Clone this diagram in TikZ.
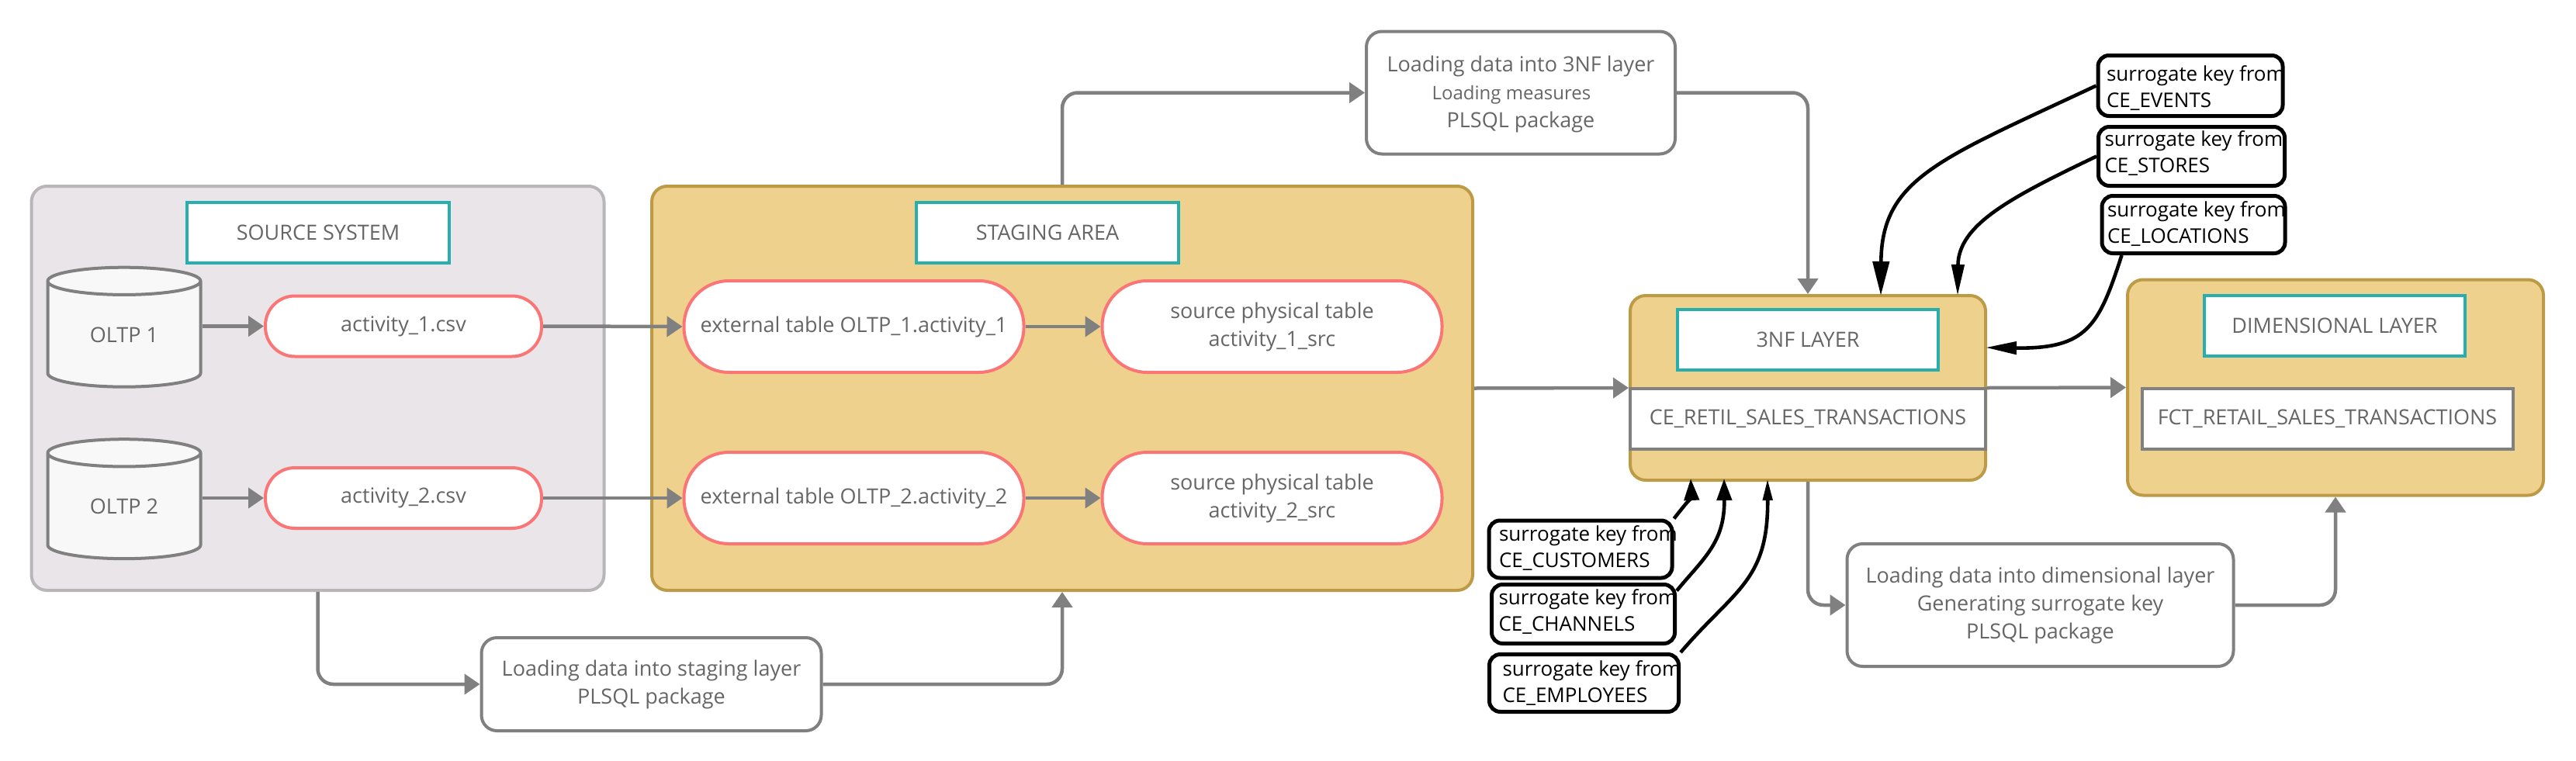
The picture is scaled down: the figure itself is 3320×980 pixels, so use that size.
\documentclass[tikz,border=0pt]{standalone}
\usepackage{fontspec}
\setmainfont{Open Sans}
\usetikzlibrary{arrows.meta,shapes.geometric}
\definecolor{cgray}{HTML}{808080}
\definecolor{ctext}{HTML}{666666}
\definecolor{csrcfill}{HTML}{E9E5E9}
\definecolor{csrcline}{HTML}{B8B6B8}
\definecolor{cgold}{HTML}{EFD18E}
\definecolor{cgoldline}{HTML}{BD9A45}
\definecolor{cteal}{HTML}{26AFAE}
\definecolor{cpink}{HTML}{FA7676}
\definecolor{ccyl}{HTML}{F8F8F8}
\newcommand\keytext[4]{\makebox[#1][l]{\hspace*{#2}\smash{\raisebox{#3}{\parbox[c]{130pt}{\baselineskip=17pt surrogate key from\\#4}}}}}
\tikzset{
  base/.style={inner sep=0pt,font=\fontsize{13.5}{18}\selectfont,text=ctext,align=center},
  srcbox/.style={base,draw=csrcline,fill=csrcfill,line width=2pt,rounded corners=10pt},
  goldbox/.style={base,draw=cgoldline,fill=cgold,line width=2pt,rounded corners=10pt},
  titlebox/.style={base,draw=cteal,fill=white,line width=2pt},
  pill/.style={base,draw=cpink,fill=white,line width=2pt},
  procbox/.style={base,draw=cgray,fill=white,line width=2pt,rounded corners=10pt},
  innerbox/.style={base,draw=cgray,fill=white,line width=2pt},
  dbcyl/.style={base,draw=cgray,line width=2pt,shape=cylinder,shape border rotate=90,aspect=0.4,
     cylinder uses custom fill,cylinder body fill=ccyl,cylinder end fill=ccyl,
     minimum width=98.5pt,minimum height=77pt},
  keybox/.style={base,font=\fontsize{13}{17}\selectfont,text=black,draw=black,fill=white,line width=2.5pt,rounded corners=7pt,align=left},
  link/.style={draw=cgray,line width=2.25pt,rounded corners=10pt,-{Triangle[length=10pt,width=13pt]}},
  blk/.style={draw=black,line width=2.3pt}
}
\begin{document}
\begin{tikzpicture}[x=0.5pt,y=-0.5pt]
\useasboundingbox (0,0) rectangle (3320,980);
% containers
\node[srcbox,minimum width=369pt,minimum height=260.5pt] (source) at (409.5,500.5) {};
\node[goldbox,minimum width=529pt,minimum height=260.5pt] (stage) at (1369,500.5) {};
\node[goldbox,minimum width=229pt,minimum height=119pt] (three) at (2330,500) {};
\node[goldbox,minimum width=268pt,minimum height=139pt] (dim) at (3010,499.5) {};
% titles
\node[titlebox,minimum width=169pt,minimum height=39pt] (srctitle) at (410,300) {SOURCE SYSTEM};
\node[titlebox,minimum width=169pt,minimum height=39pt] (stagetitle) at (1350,300) {STAGING AREA};
\node[titlebox,minimum width=168pt,minimum height=39pt] (threetitle) at (2330,438) {3NF LAYER};
\node[titlebox,minimum width=168pt,minimum height=39pt] (dimtitle) at (3009,420) {DIMENSIONAL LAYER};
% inner tables
\node[innerbox,minimum width=229pt,minimum height=39pt] (threeinner) at (2330,540) {CE\_RETIL\_SALES\_TRANSACTIONS};
\node[innerbox,minimum width=239pt,minimum height=39pt] (diminner) at (2999.5,540) {FCT\_RETAIL\_SALES\_TRANSACTIONS};
% databases
\node[dbcyl] (db1) at (160,431.5) {OLTP 1};
\node[dbcyl] (db2) at (160,653) {OLTP 2};
% pills
\node[pill,rounded corners=19pt,minimum width=178pt,minimum height=39pt] (csv1) at (520,420.5) {activity\_1.csv};
\node[pill,rounded corners=19pt,minimum width=178pt,minimum height=39pt] (csv2) at (520,642) {activity\_2.csv};
\node[pill,rounded corners=29pt,minimum width=219pt,minimum height=59pt] (ext1) at (1100.5,421) {external table OLTP\_1.activity\_1};
\node[pill,rounded corners=29pt,minimum width=219pt,minimum height=59pt] (ext2) at (1100.5,642) {external table OLTP\_2.activity\_2};
\node[pill,rounded corners=29pt,minimum width=219pt,minimum height=59pt] (phys1) at (1639.5,421) {source physical table\\activity\_1\_src};
\node[pill,rounded corners=29pt,minimum width=219pt,minimum height=59pt] (phys2) at (1639.5,642) {source physical table\\activity\_2\_src};
% process boxes
\node[procbox,minimum width=219pt,minimum height=60pt] (load1) at (839.5,882) {Loading data into staging layer\\PLSQL package};
\node[procbox,minimum width=199pt,minimum height=79pt] (load3) at (1960,119.5) {\smash{\raisebox{-4.5pt}{\parbox{190pt}{\centering\baselineskip=18pt Loading data into 3NF layer\\{\fontsize{12}{18}\selectfont\hspace*{-12pt}Loading measures}\\PLSQL package}}}};
\node[procbox,minimum width=249pt,minimum height=79pt] (loaddim) at (2629.5,780) {Loading data into dimensional layer\\Generating surrogate key\\PLSQL package};
% key boxes
\node[keybox,minimum width=119pt,minimum height=39pt] (ev) at (2823,110.5) {\keytext{119pt}{5.5pt}{-4.5pt}{CE\_EVENTS}};
\node[keybox,minimum width=120pt,minimum height=38pt] (st) at (2824.5,201.5) {\keytext{120pt}{4pt}{-1pt}{CE\_STORES}};
\node[keybox,minimum width=118pt,minimum height=37pt] (loc) at (2827,289.5) {\keytext{118pt}{3.5pt}{-2.5pt}{CE\_LOCATIONS}};
\node[keybox,minimum width=118pt,minimum height=37pt] (cust) at (2037,708) {\keytext{118pt}{6.5pt}{-2.5pt}{CE\_CUSTOMERS}};
\node[keybox,minimum width=118pt,minimum height=38pt] (chan) at (2040.5,791.5) {\keytext{118pt}{4.5pt}{-1.5pt}{CE\_CHANNELS}};
\node[keybox,minimum width=122pt,minimum height=37pt] (emp) at (2041.5,880.5) {\keytext{122pt}{8.5pt}{-3pt}{CE\_EMPLOYEES}};
% connectors
\draw[link] (db1.east |- csv1.west) -- (csv1.west);
\draw[link] (db2.east |- csv2.west) -- (csv2.west);
\draw[link] (csv1.east) -- (ext1.west);
\draw[link] (csv2.east) -- (ext2.west);
\draw[link] (ext1.east) -- (phys1.west);
\draw[link] (ext2.east) -- (phys2.west);
\draw[link] (source.south) |- (load1.west);
\draw[link] (load1.east) -| (stage.south);
\draw[link] (stage.north) |- (load3.west);
\draw[link] (load3.east) -| (three.north);
\draw[link] (stage.east) -- (three.west);
\draw[link] (three.east) -- (dim.west);
\draw[link] (three.south) |- (loaddim.west);
\draw[link] (loaddim.east) -| (dim.south);
% surrogate key arrows
\path (three.north west) ++(325,2) coordinate (inA) ++(99,0) coordinate (inB);
\path (three.south west) ++(80,-4) coordinate (inC) ++(43,0) coordinate (inD) ++(56,0) coordinate (inE);
\path (three.east) ++(-2,-52) coordinate (inF);
\path (loc.south west) ++(28,0) coordinate (locout);
\path (chan.east) ++(0,-30) coordinate (chanout);
\draw[blk,-{Triangle[length=22pt,width=10.5pt]}] (ev.west) .. controls (2500,205) and (2425,230) .. (inA);
\draw[blk,-{Triangle[length=20pt,width=8pt]}] (st.west) .. controls (2590,255) and (2524,290) .. (inB);
\draw[blk,-{Triangle[length=20pt,width=8pt]}] (locout) .. controls (2705,420) and (2690,450) .. (inF);
\draw[blk,-{Triangle[length=14pt,width=9.5pt]}] (cust.north east) .. controls (2172,650) and (2180,640) .. (inC);
\draw[blk,-{Triangle[length=14pt,width=9.5pt]}] (chanout) .. controls (2195,720) and (2223,700) .. (inD);
\draw[blk,-{Triangle[length=14pt,width=6pt]}] (emp.north east) .. controls (2235,760) and (2279,750) .. (inE);
\end{tikzpicture}
\end{document}
